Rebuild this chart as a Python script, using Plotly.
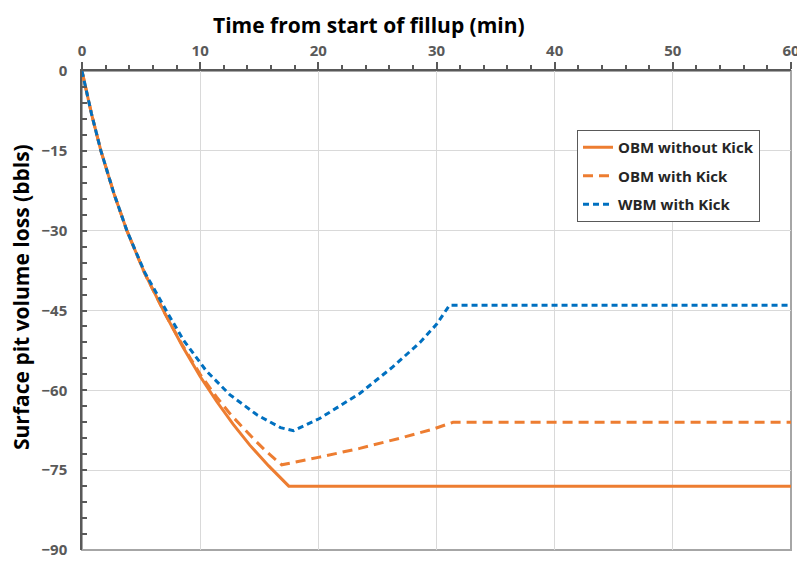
import plotly.graph_objects as go

# Data
t_obm_nokick = [0, 0.8, 1.6, 2.7, 3.8, 5.3, 7.0, 8.5, 10.0, 11.4, 12.8, 14.2, 15.8, 17.5, 60]
v_obm_nokick = [0, -8, -15, -23, -30, -38, -45.5, -51.7, -57.4, -62.1, -66.4, -70.3, -74.2, -78, -78]

t_obm_kick = [0, 0.8, 1.6, 2.7, 3.8, 5.3, 7.0, 8.5, 10.0, 11.4, 12.6, 13.6, 14.6, 15.6, 16.9,
              20.0, 23.5, 26.9, 29.7, 31.4, 60]
v_obm_kick = [0, -8, -15, -23, -30, -38, -45.5, -51.5, -57, -61.3, -64.6, -67, -69.3, -71.5, -74,
              -72.6, -70.9, -69, -67.3, -66, -66]

t_wbm_kick = [0, 0.8, 1.6, 2.7, 3.8, 5.3, 7.2, 8.6, 10.5, 12.5, 14.8, 16.8, 17.9,
              20.1, 23.5, 26.3, 28.6, 30.0, 31.1, 60]
v_wbm_kick = [0, -8, -15, -23, -30, -37.8, -45.3, -50.6, -56.3, -60.8, -64.6, -67.0, -67.6,
              -65.3, -60.6, -55.6, -51.0, -47.6, -44, -44]

series_names = ["OBM without Kick", "OBM with Kick", "WBM with Kick"]
x_title = "Time from start of fillup (min)"
y_title = "Surface pit volume loss (bbls)"

ORANGE = "#ED7D31"
BLUE = "#0070C0"
FONT = "Open Sans"

# the page body has an 8px default margin; compensate so the plot area lands at the same spot
OFF = 8
PL, PT, PR, PB = 82, 71, 791, 550  # plot area in window pixels
W, H = 805 - OFF, 562 - OFF
PW, PH = PR - PL, PB - PT

fig = go.Figure()
fig.add_trace(go.Scatter(x=t_obm_nokick, y=v_obm_nokick, mode="lines", name=series_names[0],
                         legendgroup="a", line=dict(color=ORANGE, width=3)))
fig.add_trace(go.Scatter(x=t_obm_kick, y=v_obm_kick, mode="lines", name=series_names[1],
                         legendgroup="b", line=dict(color=ORANGE, width=3, dash="10px,6px")))
fig.add_trace(go.Scatter(x=t_wbm_kick, y=v_wbm_kick, mode="lines", name=series_names[2],
                         legendgroup="c", line=dict(color=BLUE, width=3, dash="6px,4px")))

fig.update_layout(
    width=W, height=H,
    margin=dict(l=PL - OFF, r=805 - PR, t=PT - OFF, b=562 - PB, autoexpand=False),
    paper_bgcolor="white", plot_bgcolor="white",
    font=dict(family=FONT, color="#595959"),
    showlegend=True,
    legend=dict(x=(577 - PL) / PW, y=(PB - 130) / PH, xanchor="left", yanchor="top",
                bgcolor="white", bordercolor="#595959", borderwidth=1,
                font=dict(family=FONT, size=15, color="#262626", weight="bold"),
                tracegroupgap=6),
    xaxis=dict(range=[0, 60], side="top", dtick=10, tick0=0,
               showgrid=True, gridcolor="#D9D9D9", gridwidth=1,
               showline=True, linecolor="#595959", linewidth=1.5,
               ticks="outside", ticklen=7, tickcolor="#595959", tickwidth=1.5,
               minor=dict(dtick=2, ticks="outside", ticklen=4, tickcolor="#595959", showgrid=False),
               tickfont=dict(family=FONT, size=15, color="#595959", weight="bold"),
               zeroline=False, fixedrange=True, automargin=False),
    yaxis=dict(range=[-90, 0], dtick=15, tick0=0,
               showgrid=True, gridcolor="#D9D9D9", gridwidth=1,
               showline=True, linecolor="#595959", linewidth=1.5,
               ticks="inside", ticklen=5, tickcolor="#595959", tickwidth=1.5,
               minor=dict(dtick=3, ticks="inside", ticklen=5, tickcolor="#595959", showgrid=False),
               tickfont=dict(family=FONT, size=15, color="#595959", weight="bold"),
               ticklabelstandoff=10,
               zeroline=False, fixedrange=True, automargin=False),
    shapes=[dict(type="rect", xref="paper", yref="paper", x0=0, x1=1, y0=0, y1=1,
                 line=dict(color="#A6A6A6", width=2), layer="below")],
    annotations=[
        dict(text=x_title, xref="paper", yref="paper", x=(369 - PL) / PW, y=1 + (PT - OFF - 1) / PH,
             xanchor="center", yanchor="top", showarrow=False,
             font=dict(family=FONT, size=21, color="#000000", weight="bold")),
        dict(text=y_title, xref="paper", yref="paper", x=-(PL - 21) / PW, y=(PB - 297) / PH,
             xanchor="center", yanchor="middle", showarrow=False, textangle=-90,
             font=dict(family=FONT, size=21, color="#000000", weight="bold")),
    ],
)

fig.write_html("out.html")
